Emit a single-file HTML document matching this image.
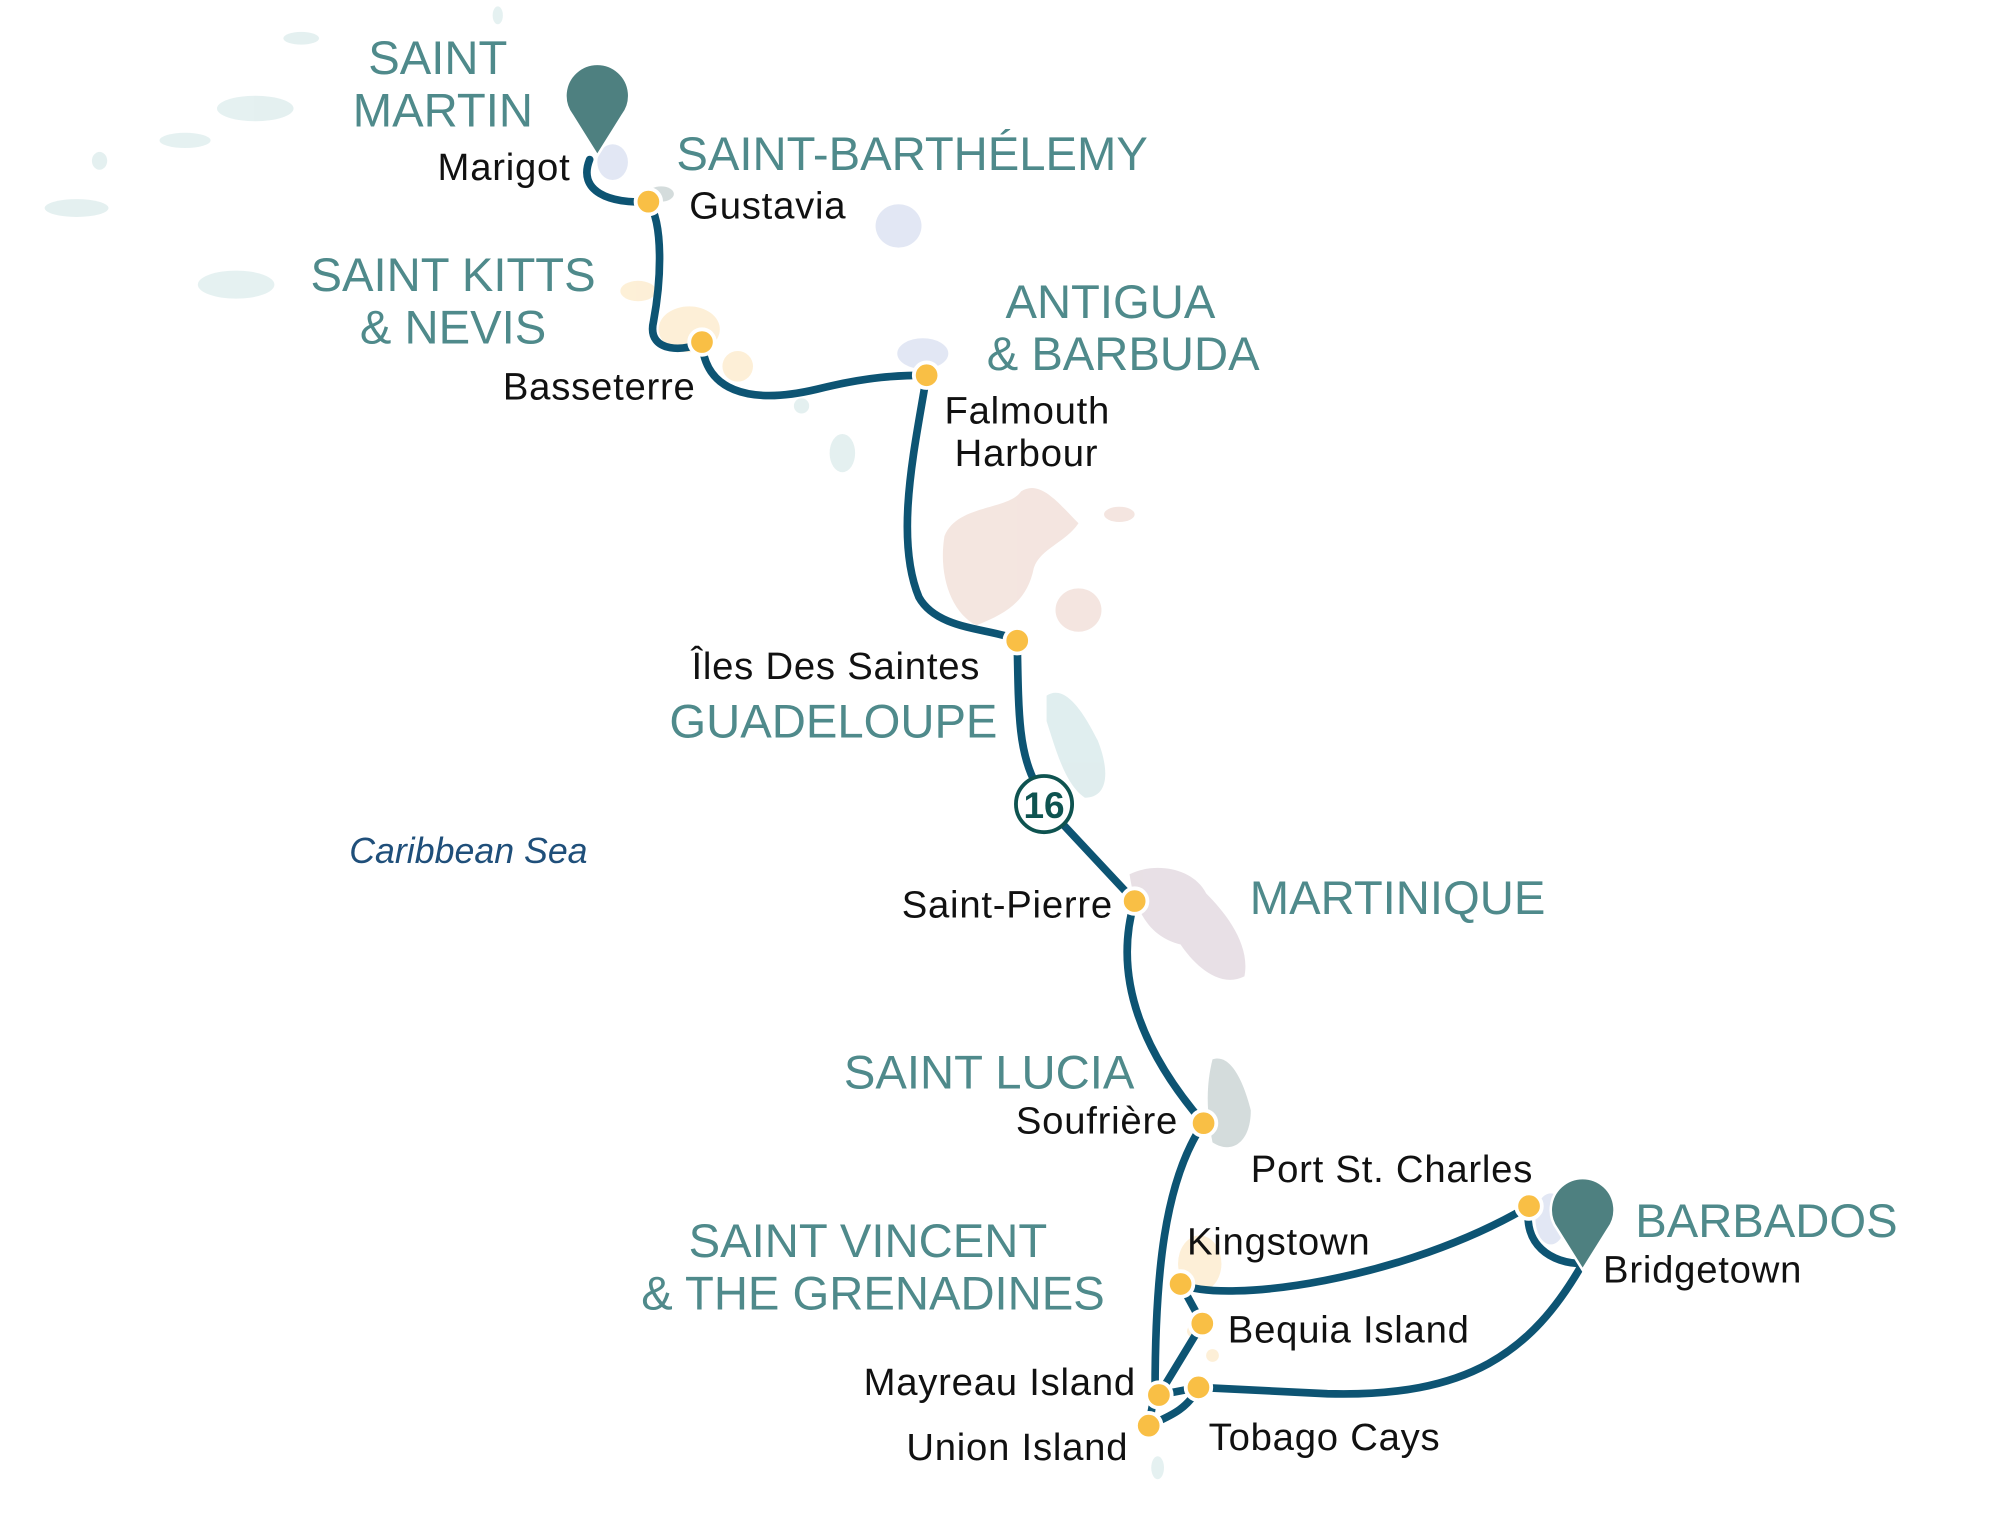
<!DOCTYPE html>
<html><head><meta charset="utf-8"><style>
html,body{margin:0;padding:0;background:#fff;}
svg{display:block;}
.c{font-family:"Liberation Sans",sans-serif;fill:#4f8a8b;font-size:37px;}
.p{font-family:"Liberation Sans",sans-serif;fill:#111;font-size:30px;letter-spacing:0.6px;}
.r{fill:none;stroke:#0d5473;stroke-width:6;stroke-linecap:round;}
.d{fill:#f9bf45;stroke:#fff;stroke-width:3;}
</style></head><body>
<svg width="2000" height="1515" viewBox="0 0 1567 1187" preserveAspectRatio="none" xmlns="http://www.w3.org/2000/svg">
<g opacity="0.9">
<ellipse cx="236" cy="30" rx="14" ry="5" fill="#e2efef"/>
<ellipse cx="390" cy="12" rx="4" ry="7" fill="#e2efef"/>
<ellipse cx="200" cy="85" rx="30" ry="10" fill="#e2efef"/>
<ellipse cx="145" cy="110" rx="20" ry="6" fill="#e2efef"/>
<ellipse cx="78" cy="126" rx="6" ry="7" fill="#e2efef"/>
<ellipse cx="60" cy="163" rx="25" ry="7" fill="#e2efef"/>
<ellipse cx="185" cy="223" rx="30" ry="11" fill="#e2efef"/>
<ellipse cx="480" cy="127" rx="12" ry="14" fill="#dfe4f3"/>
<ellipse cx="518" cy="152" rx="10" ry="6" fill="#cfd8d8"/>
<ellipse cx="704" cy="177" rx="18" ry="17" fill="#dfe4f3"/>
<ellipse cx="500" cy="228" rx="14" ry="8" fill="#fdeed3"/>
<ellipse cx="540" cy="258" rx="24" ry="18" fill="#fdeed3"/>
<ellipse cx="578" cy="287" rx="12" ry="12" fill="#fdeed3"/>
<ellipse cx="723" cy="277" rx="20" ry="12" fill="#dfe4f3"/>
<ellipse cx="628" cy="318" rx="6" ry="6" fill="#e2efef"/>
<ellipse cx="660" cy="355" rx="10" ry="15" fill="#e2efef"/>
<path d="M740,420 C750,395 790,400 800,385 C815,375 830,395 845,410 C835,425 815,430 810,445 C805,470 790,480 765,490 C745,480 735,450 740,420Z" fill="#f3e3dd"/>
<ellipse cx="845" cy="478" rx="18" ry="17" fill="#f3e3dd"/>
<ellipse cx="877" cy="403" rx="12" ry="6" fill="#f3e3dd"/>
<path d="M820,545 C835,535 850,560 860,580 C870,605 868,625 850,625 C835,615 828,590 820,565Z" fill="#ddeced"/>
<path d="M885,685 C905,675 935,680 945,700 C960,715 980,740 975,765 C955,775 935,755 925,740 C905,735 890,720 885,685Z" fill="#e6dde3"/>
<path d="M950,830 C965,825 975,850 980,870 C980,895 965,905 950,895 C945,870 945,850 950,830Z" fill="#cfd8d8"/>
<ellipse cx="940" cy="990" rx="17" ry="22" fill="#fdeed3"/>
<ellipse cx="938" cy="1043" rx="8" ry="6" fill="#fdeed3"/>
<ellipse cx="950" cy="1062" rx="5" ry="5" fill="#fdeed3"/>
<ellipse cx="907" cy="1150" rx="5" ry="9" fill="#e2efef"/>
<ellipse cx="1215" cy="955" rx="12" ry="20" fill="#dfe4f3"/>
</g>
<path class="r" d="M462,125 C452,150 478,160 508,158 C520,175 518,220 512,252 C506,278 540,275 550,268 C552,305 585,318 640,305 C680,295 705,294 726,294 C718,345 700,420 720,468 C735,495 780,492 797,502 C798,560 798,590 812,615 L818,630 L889,706 C870,770 900,830 943,880 C912,925 905,1000 905,1090 L900,1117"/>
<path class="r" d="M925,1006 C960,1022 1100,1003 1198,945 C1193,975 1215,990 1240,990 C1200,1060 1150,1095 1040,1092 L939,1087 C930,1105 915,1110 900,1117"/>
<path class="r" d="M925,1006 L942,1037 L908,1093 L939,1087"/>
<circle cx="818" cy="630" r="22" fill="#fff" stroke="#0e5350" stroke-width="3"/>
<text x="818" y="641" text-anchor="middle" font-family="Liberation Sans,sans-serif" font-size="29" font-weight="bold" fill="#0e5350">16</text>
<circle class="d" cx="508" cy="158" r="10"/>
<circle class="d" cx="550" cy="268" r="10"/>
<circle class="d" cx="726" cy="294" r="10"/>
<circle class="d" cx="797" cy="502" r="10"/>
<circle class="d" cx="889" cy="706" r="10"/>
<circle class="d" cx="943" cy="880" r="10"/>
<circle class="d" cx="1198" cy="945" r="10"/>
<circle class="d" cx="925" cy="1006" r="10"/>
<circle class="d" cx="942" cy="1037" r="10"/>
<circle class="d" cx="939" cy="1087" r="10"/>
<circle class="d" cx="908" cy="1093" r="10"/>
<circle class="d" cx="900" cy="1117" r="10"/>
<path d="M468,122 L448,90 A25,25 0 1 1 488,90 Z" fill="#4e8080" stroke="#fff" stroke-width="2"/>
<path d="M1240,995 L1220,963 A25,25 0 1 1 1260,963 Z" fill="#4e8080" stroke="#fff" stroke-width="2"/>
<text class="c" x="343" y="58" text-anchor="middle">SAINT</text>
<text class="c" x="347" y="99" text-anchor="middle">MARTIN</text>
<text class="c" x="530" y="133">SAINT-BARTHÉLEMY</text>
<text class="c" x="355" y="228" text-anchor="middle">SAINT KITTS</text>
<text class="c" x="355" y="269" text-anchor="middle">&amp; NEVIS</text>
<text class="c" x="870" y="249" text-anchor="middle">ANTIGUA</text>
<text class="c" x="880" y="290" text-anchor="middle">&amp; BARBUDA</text>
<text class="c" x="653" y="578" text-anchor="middle">GUADELOUPE</text>
<text class="c" x="1095" y="716" text-anchor="middle">MARTINIQUE</text>
<text class="c" x="775" y="853" text-anchor="middle">SAINT LUCIA</text>
<text class="c" x="680" y="985" text-anchor="middle">SAINT VINCENT</text>
<text class="c" x="684" y="1026" text-anchor="middle">&amp; THE GRENADINES</text>
<text class="c" x="1384" y="969" text-anchor="middle">BARBADOS</text>
<text class="p" x="447" y="141" text-anchor="end">Marigot</text>
<text class="p" x="540" y="171">Gustavia</text>
<text class="p" x="545" y="313" text-anchor="end">Basseterre</text>
<text class="p" x="740" y="332">Falmouth</text>
<text class="p" x="748" y="365">Harbour</text>
<text class="p" x="768" y="532" text-anchor="end">Îles Des Saintes</text>
<text class="p" x="872" y="719" text-anchor="end">Saint-Pierre</text>
<text class="p" x="923" y="888" text-anchor="end">Soufrière</text>
<text class="p" x="980" y="926">Port St. Charles</text>
<text class="p" x="930" y="983">Kingstown</text>
<text class="p" x="1256" y="1005">Bridgetown</text>
<text class="p" x="962" y="1052">Bequia Island</text>
<text class="p" x="890" y="1093" text-anchor="end">Mayreau Island</text>
<text class="p" x="947" y="1136">Tobago Cays</text>
<text class="p" x="884" y="1144" text-anchor="end">Union Island</text>
<text x="367" y="676" text-anchor="middle" font-family="Liberation Sans,sans-serif" font-style="italic" font-size="28" fill="#1f4f7a">Caribbean Sea</text>
</svg>
</body></html>
